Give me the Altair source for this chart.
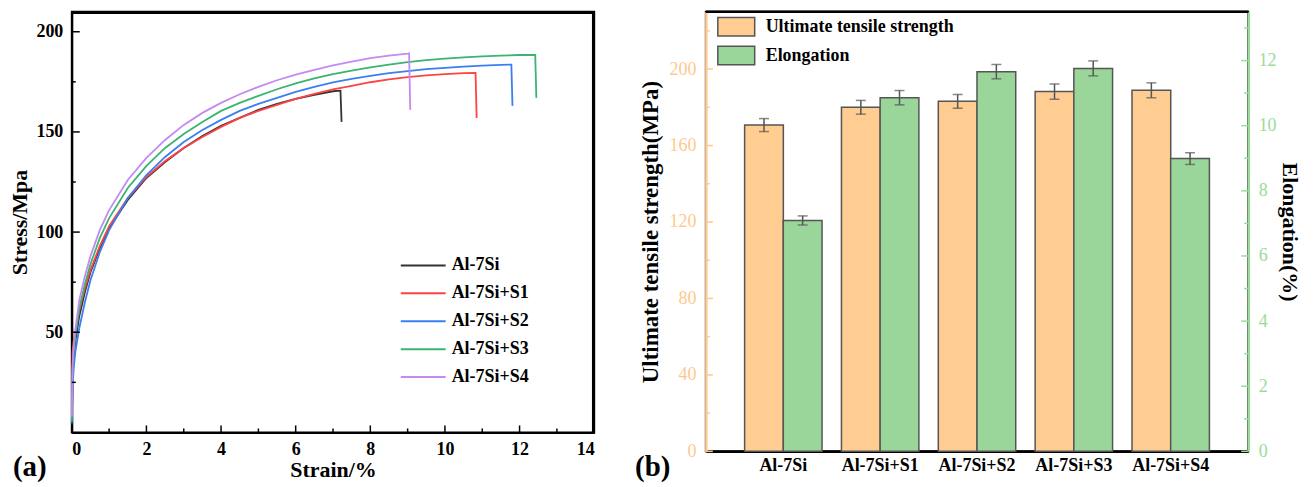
import altair as alt
import pandas as pd

# ---------------- panel (a): stress-strain curves ----------------
series_names = ["Al-7Si", "Al-7Si+S1", "Al-7Si+S2", "Al-7Si+S3", "Al-7Si+S4"]
line_colors = ["#333333", "#ff4242", "#3a7ff2", "#3cb371", "#c28af2"]

strain_al7si = [0, 0.02, 0.05, 0.1, 0.2, 0.35, 0.5, 0.75, 1.0, 1.5, 2.0, 2.5, 3.0, 3.5, 4.0,
                4.5, 5.0, 5.5, 6.0, 6.5, 7.0, 7.2, 7.23]
stress_al7si = [4, 26, 37, 46, 58, 70, 80, 92, 102, 116, 127, 135, 142, 148, 153,
                157, 161, 164, 166.5, 168.5, 170.3, 170.6, 155]

strain_s1 = [0, 0.02, 0.05, 0.1, 0.2, 0.35, 0.5, 0.75, 1.0, 1.5, 2.0, 2.5, 3.0, 3.5, 4.0,
             4.5, 5.0, 5.5, 6.0, 6.5, 7.0, 7.5, 8.0, 8.5, 9.0, 9.5, 10.0, 10.5, 10.82, 10.85]
stress_s1 = [10, 40, 46, 51, 61, 72, 81, 93, 103, 117, 127.5, 135.5, 142, 147.5, 152.5,
             157, 160.5, 163.5, 166.5, 169, 171.2, 173, 174.8, 176.2, 177.3, 178.2, 178.9, 179.3, 179.4, 157]

strain_s2 = [0, 0.02, 0.05, 0.1, 0.2, 0.35, 0.5, 0.75, 1.0, 1.5, 2.0, 2.5, 3.0, 3.5, 4.0,
             4.5, 5.0, 5.5, 6.0, 6.5, 7.0, 7.5, 8.0, 8.5, 9.0, 9.5, 10.0, 10.5, 11.0, 11.5, 11.78, 11.81]
stress_s2 = [5, 22, 32, 41, 52, 65, 76, 90, 101, 117, 128.5, 137.5, 145, 151, 156,
             160.5, 164, 167, 170, 172.5, 174.7, 176.5, 178, 179.3, 180.4, 181.3, 182, 182.6, 183.1, 183.5, 183.6, 163]

strain_s3 = [0, 0.02, 0.05, 0.1, 0.2, 0.35, 0.5, 0.75, 1.0, 1.5, 2.0, 2.5, 3.0, 3.5, 4.0,
             4.5, 5.0, 5.5, 6.0, 6.5, 7.0, 7.5, 8.0, 8.5, 9.0, 9.5, 10.0, 10.5, 11.0, 11.5, 12.0, 12.42, 12.45]
stress_s3 = [6, 30, 40, 49, 62, 74, 84, 97, 107, 122, 133, 142, 149, 155, 160.5,
             164.5, 168, 171.3, 174.2, 176.7, 178.8, 180.6, 182.2, 183.6, 184.8, 185.8, 186.6, 187.2, 187.7, 188.1, 188.4, 188.4, 167]

strain_s4 = [0, 0.02, 0.05, 0.1, 0.2, 0.35, 0.5, 0.75, 1.0, 1.5, 2.0, 2.5, 3.0, 3.5, 4.0,
             4.5, 5.0, 5.5, 6.0, 6.5, 7.0, 7.5, 8.0, 8.5, 9.0, 9.04, 9.07]
stress_s4 = [8, 33, 43, 52, 66, 78, 88, 101, 111, 126, 137, 146, 153.5, 159.5, 164.5,
             168.8, 172.5, 175.8, 178.6, 181, 183.2, 185.1, 186.8, 188.1, 189.1, 189.2, 161]

a_x_major = [0, 2, 4, 6, 8, 10, 12, 14]
a_x_minor = [1, 3, 5, 7, 9, 11, 13]
a_y_major = [50, 100, 150, 200]
a_y_minor = [25, 75, 125, 175]

# ---------------- panel (b): bars ----------------
categories = ["Al-7Si", "Al-7Si+S1", "Al-7Si+S2", "Al-7Si+S3", "Al-7Si+S4"]
uts = [170.7, 180.0, 183.1, 188.2, 188.9]
uts_err = [3.4, 3.6, 3.6, 4.0, 3.9]
elong = [7.09, 10.86, 11.66, 11.76, 8.99]
elong_err = [0.14, 0.22, 0.22, 0.23, 0.18]
bar_series = ["Ultimate tensile strength", "Elongation"]
bar_colors = ["#ffcc91", "#9ad69a"]

b_uts_major = [0, 40, 80, 120, 160, 200]
b_uts_minor = [20, 60, 100, 140, 180, 220]
b_el_major = [0, 2, 4, 6, 8, 10, 12]
b_el_minor = [1, 3, 5, 7, 9, 11, 13]

SERIF = "Liberation Serif"
ORANGE_AX = "#ffc88e"
GREEN_AX = "#9adb9a"
EDGE = "#555555"

# ================= panel (a) =================
W_A, H_A = 524, 422
rows = []
for name, sx, sy in zip(series_names,
                        [strain_al7si, strain_s1, strain_s2, strain_s3, strain_s4],
                        [stress_al7si, stress_s1, stress_s2, stress_s3, stress_s4]):
    for i, (a, b) in enumerate(zip(sx, sy)):
        rows.append({"series": name, "strain": a, "stress": b, "idx": i})
curves = pd.DataFrame(rows)

xs_a = alt.Scale(domain=[0, 14], nice=False, zero=False)
ys_a = alt.Scale(domain=[0, 210], nice=False, zero=False)

x_axis_a = alt.Axis(values=a_x_major, title="Strain/%", grid=False, ticks=False, tickSize=0,
                    domain=True, domainColor="black", domainWidth=2, labelPadding=8,
                    labelFont=SERIF, labelFontSize=18,
                    labelFontWeight="bold", labelColor="black", titleFont=SERIF,
                    titleFontSize=22, titleFontWeight="bold", titleColor="black",
                    titlePadding=1, format="d")
y_axis_a = alt.Axis(values=a_y_major, title="Stress/Mpa", grid=False, ticks=False, tickSize=0,
                    domain=True, domainColor="black", domainWidth=2, labelPadding=9,
                    labelFont=SERIF, labelFontSize=18,
                    labelFontWeight="bold", labelColor="black", titleFont=SERIF,
                    titleFontSize=22, titleFontWeight="bold", titleColor="black",
                    titlePadding=4, format="d")

lines = alt.Chart(curves).mark_line(strokeWidth=1.8).encode(
    x=alt.X("strain:Q", scale=xs_a, axis=x_axis_a),
    y=alt.Y("stress:Q", scale=ys_a, axis=y_axis_a),
    color=alt.Color("series:N", scale=alt.Scale(domain=series_names, range=line_colors),
                    legend=alt.Legend(title=None, orient="none", legendX=340, legendY=242,
                                      symbolType="M-2,0H2", symbolSize=506, symbolStrokeWidth=2,
                                      labelFont=SERIF, labelFontSize=18, labelFontWeight="bold",
                                      labelColor="black", labelOffset=16, rowPadding=6)),
    order="idx:Q",
)

ytick_maj_a = alt.Chart(pd.DataFrame({"stress": a_y_major})).mark_rule(color="black", strokeWidth=1.5).encode(
    y=alt.Y("stress:Q", scale=ys_a, axis=y_axis_a), x=alt.value(0), x2=alt.value(8))
ytick_min_a = alt.Chart(pd.DataFrame({"stress": a_y_minor})).mark_rule(color="black", strokeWidth=1.5).encode(
    y=alt.Y("stress:Q", scale=ys_a, axis=y_axis_a), x=alt.value(0), x2=alt.value(4))
xtick_maj_a = alt.Chart(pd.DataFrame({"strain": a_x_major})).mark_rule(color="black", strokeWidth=1.5).encode(
    x=alt.X("strain:Q", scale=xs_a, axis=x_axis_a), y=alt.value(H_A), y2=alt.value(H_A - 7))
xtick_min_a = alt.Chart(pd.DataFrame({"strain": a_x_minor})).mark_rule(color="black", strokeWidth=1.5).encode(
    x=alt.X("strain:Q", scale=xs_a, axis=x_axis_a), y=alt.value(H_A), y2=alt.value(H_A - 4))

one_row = pd.DataFrame({"f": [1]})
frame_top = alt.Chart(one_row).mark_rule(color="black", strokeWidth=2.5).encode(
    x=alt.value(0), x2=alt.value(W_A), y=alt.value(1))
frame_right = alt.Chart(one_row).mark_rule(color="black", strokeWidth=2.5).encode(
    x=alt.value(W_A - 1), y=alt.value(0), y2=alt.value(H_A))

label_a = alt.Chart(pd.DataFrame({"t": ["(a)"]})).mark_text(
    font=SERIF, fontSize=29, fontWeight="bold", align="left", baseline="alphabetic", color="black"
).encode(text="t:N", x=alt.value(-59), y=alt.value(H_A + 44))

panel_a = alt.layer(lines, ytick_maj_a, ytick_min_a, xtick_maj_a, xtick_min_a,
                    frame_top, frame_right, label_a).properties(width=W_A, height=H_A)

# ================= panel (b) =================
W_B, H_B = 544, 441
QOFF = 19.4  # quarter of band width, pixel offset of each bar in a group

df_uts = pd.DataFrame({"cat": categories, "val": uts,
                       "lo": [v - e for v, e in zip(uts, uts_err)],
                       "hi": [v + e for v, e in zip(uts, uts_err)],
                       "measure": bar_series[0]})
df_el = pd.DataFrame({"cat": categories, "val": elong,
                      "lo": [v - e for v, e in zip(elong, elong_err)],
                      "hi": [v + e for v, e in zip(elong, elong_err)],
                      "measure": bar_series[1]})

xb = alt.Scale(domain=categories, paddingInner=0.2, paddingOuter=0.4)
y_uts = alt.Scale(domain=[0, 230], nice=False, zero=True)
y_el = alt.Scale(domain=[0, 13.5], nice=False, zero=True)

x_axis_b = alt.Axis(title=None, ticks=False, tickSize=0, labelAngle=0, labelPadding=5,
                    labelFont=SERIF, labelFontSize=18, labelFontWeight="bold", labelColor="black",
                    domainColor="black", domainWidth=2.5, grid=False)
y_axis_uts = alt.Axis(values=b_uts_major, title="Ultimate tensile strength(MPa)", grid=False,
                      ticks=False, tickSize=0, labelPadding=10, labelFont=SERIF, labelFontSize=18,
                      labelColor=ORANGE_AX, domainColor=ORANGE_AX, domainWidth=2.5,
                      titleFont=SERIF, titleFontSize=23, titleFontWeight="bold", titleColor="black",
                      titlePadding=7, format="d")
y_axis_el = alt.Axis(values=b_el_major, title="Elongation(%)", orient="right", grid=False,
                     ticks=False, tickSize=0, labelPadding=10, labelFont=SERIF, labelFontSize=18,
                     labelColor=GREEN_AX, domainColor=GREEN_AX, domainWidth=2.5,
                     titleFont=SERIF, titleFontSize=22, titleFontWeight="bold", titleColor="black",
                     titlePadding=1, format="d")

color_b = alt.Color("measure:N", scale=alt.Scale(domain=bar_series, range=bar_colors),
                    legend=alt.Legend(title=None, orient="none", legendX=20.5, legendY=5,
                                      symbolType="M-2,-1H2V1H-2Z", symbolSize=342,
                                      symbolStrokeColor=EDGE, symbolStrokeWidth=1.5,
                                      symbolOpacity=1, labelFont=SERIF, labelFontSize=18,
                                      labelFontWeight="bold", labelColor="black", labelOffset=19.5,
                                      labelLimit=0, rowPadding=3))


def bar_group(df, yscale, yaxis, off):
    bars = alt.Chart(df).mark_bar(width=alt.RelativeBandSize(0.5), xOffset=off, stroke=EDGE,
                                  strokeWidth=1.5, opacity=1).encode(
        x=alt.X("cat:N", scale=xb, sort=categories, axis=x_axis_b),
        y=alt.Y("val:Q", scale=yscale, axis=yaxis),
        color=color_b)
    err = alt.Chart(df).mark_rule(xOffset=off, color=EDGE, strokeWidth=1.5).encode(
        x=alt.X("cat:N", scale=xb, sort=categories, axis=x_axis_b),
        y=alt.Y("lo:Q", scale=yscale, axis=yaxis), y2="hi:Q")
    cap_hi = alt.Chart(df).mark_tick(xOffset=off, color=EDGE, size=10, thickness=1.5).encode(
        x=alt.X("cat:N", scale=xb, sort=categories, axis=x_axis_b),
        y=alt.Y("hi:Q", scale=yscale, axis=yaxis))
    cap_lo = alt.Chart(df).mark_tick(xOffset=off, color=EDGE, size=10, thickness=1.5).encode(
        x=alt.X("cat:N", scale=xb, sort=categories, axis=x_axis_b),
        y=alt.Y("lo:Q", scale=yscale, axis=yaxis))
    return [bars, err, cap_hi, cap_lo]


uts_ticks_maj = alt.Chart(pd.DataFrame({"val": b_uts_major})).mark_rule(color=ORANGE_AX, strokeWidth=1.5).encode(
    y=alt.Y("val:Q", scale=y_uts, axis=y_axis_uts), x=alt.value(0), x2=alt.value(7))
uts_ticks_min = alt.Chart(pd.DataFrame({"val": b_uts_minor})).mark_rule(color=ORANGE_AX, strokeWidth=1.5).encode(
    y=alt.Y("val:Q", scale=y_uts, axis=y_axis_uts), x=alt.value(0), x2=alt.value(4))
el_ticks_maj = alt.Chart(pd.DataFrame({"val": b_el_major})).mark_rule(color=GREEN_AX, strokeWidth=1.5).encode(
    y=alt.Y("val:Q", scale=y_el, axis=y_axis_el), x=alt.value(W_B), x2=alt.value(W_B - 7))
el_ticks_min = alt.Chart(pd.DataFrame({"val": b_el_minor})).mark_rule(color=GREEN_AX, strokeWidth=1.5).encode(
    y=alt.Y("val:Q", scale=y_el, axis=y_axis_el), x=alt.value(W_B), x2=alt.value(W_B - 4))

top_b = alt.Chart(one_row).mark_rule(color="black", strokeWidth=2.5).encode(
    x=alt.value(0), x2=alt.value(W_B), y=alt.value(0))

label_b = alt.Chart(pd.DataFrame({"t": ["(b)"]})).mark_text(
    font=SERIF, fontSize=29, fontWeight="bold", align="left", baseline="alphabetic", color="black"
).encode(text="t:N", x=alt.value(-71), y=alt.value(H_B + 25))

uts_layer = alt.layer(*bar_group(df_uts, y_uts, y_axis_uts, -QOFF), uts_ticks_maj, uts_ticks_min,
                      top_b, label_b)
el_layer = alt.layer(*bar_group(df_el, y_el, y_axis_el, QOFF), el_ticks_maj, el_ticks_min)

panel_b = alt.layer(uts_layer, el_layer).resolve_scale(y="independent").properties(
    width=W_B, height=H_B)

chart = alt.hconcat(panel_a, panel_b, spacing=37).resolve_scale(
    color="independent"
).resolve_legend(color="independent").properties(
    padding={"left": 0, "top": 0, "right": 6, "bottom": 0}
).configure(background="white").configure_view(stroke="black", strokeWidth=2)

chart.save("out.html", embed_options={"renderer": "svg", "actions": False})
